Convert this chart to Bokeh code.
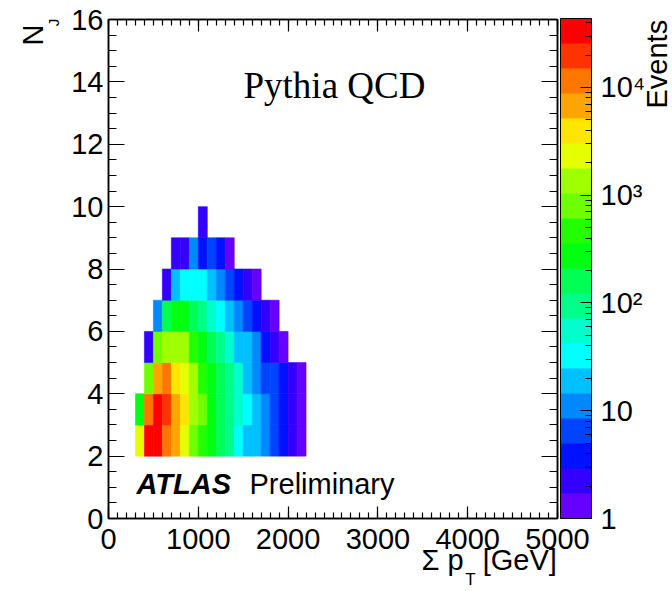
import math
from bokeh.plotting import figure
from bokeh.layouts import row
from bokeh.models import (LogColorMapper, ColorBar, FixedTicker, LinearAxis, Label,
                          ColumnDataSource, Range1d)
from bokeh.transform import transform
from bokeh.embed import file_html
from bokeh.resources import INLINE

# ---------------- data ----------------
sum_pt_low_edges = [300, 400, 500, 600, 700, 800, 900, 1000, 1100, 1200,
                    1300, 1400, 1500, 1600, 1700, 1800, 1900, 2000, 2100]
bin_width_gev = 100
nj_rows = [2, 3, 4, 5, 6, 7, 8, 9]

counts_nj2 = [2300, 30500, 34000, 12000, 6900, 2400, 780, 480, 270, 160, 92, 31, 20, 17, 11, 6, 4, 2, 1]
counts_nj3 = [280, 11000, 31000, 20000, 7000, 4000, 1400, 800, 260, 150, 95, 56, 33, 19, 11, 6, 4, 2, 1]
counts_nj4 = [0, 800, 6500, 11500, 3900, 2300, 1300, 470, 280, 165, 90, 52, 18, 11, 7, 6, 3, 2, 1]
counts_nj5 = [0, 2, 750, 1400, 1300, 1250, 450, 270, 150, 95, 54, 19, 18, 10, 4, 2, 1, 0, 0]
counts_nj6 = [0, 0, 11, 150, 290, 260, 170, 90, 56, 30, 18, 11, 6, 4, 2, 1, 0, 0, 0]
counts_nj7 = [0, 0, 0, 2, 19, 34, 36, 31, 20, 11, 6, 4, 2, 1, 0, 0, 0, 0, 0]
counts_nj8 = [0, 0, 0, 0, 2, 2, 10, 4, 6, 3, 1, 0, 0, 0, 0, 0, 0, 0, 0]
counts_nj9 = [0, 0, 0, 0, 0, 0, 0, 2, 0, 0, 0, 0, 0, 0, 0, 0, 0, 0, 0]
counts_by_row = [counts_nj2, counts_nj3, counts_nj4, counts_nj5,
                 counts_nj6, counts_nj7, counts_nj8, counts_nj9]

x_tick_values = [0, 1000, 2000, 3000, 4000, 5000]
y_tick_values = [0, 2, 4, 6, 8, 10, 12, 14, 16]
z_tick_values = [1, 10, 100, 1000, 10000]
z_tick_labels = ["1", "10", "10\u00b2", "10\u00b3", "10\u2074"]
z_max = 43650

x_title_main = "\u03a3 p"
x_title_sub = "T"
x_title_unit = "[GeV]"
y_title_main = "N"
y_title_sub = "J"
z_title = "Events"

palette = ["#6600FF", "#3300FF", "#0011FF", "#0044FF", "#0088FF", "#00C0FF",
           "#00FFFF", "#00FFCC", "#00FF88", "#00FF55", "#00FF11", "#22FF00",
           "#70FF00", "#A0FF00", "#E5FF00", "#FFE500", "#FFA500", "#FF7700",
           "#FF3300", "#FF0000"]

# ---------------- build cell table ----------------
xs, ys, cs = [], [], []
for nj, r in zip(nj_rows, counts_by_row):
    for lo, c in zip(sum_pt_low_edges, r):
        if c > 0:
            xs.append(lo + bin_width_gev / 2)
            ys.append(nj + 0.5)
            cs.append(c)
src = ColumnDataSource(dict(x=xs, y=ys, count=cs))

FONT = "Liberation Sans"
TS = "29px"

p = figure(width=644, height=591, x_range=Range1d(0, 5000), y_range=Range1d(0, 16),
           output_backend="svg", toolbar_location=None,
           min_border_left=108, min_border_right=87, min_border_top=19, min_border_bottom=72)
p.grid.visible = False
p.outline_line_color = "black"
p.outline_line_width = 1.5
p.background_fill_color = "white"

mapper = LogColorMapper(palette=palette, low=1, high=z_max)
p.rect(x="x", y="y", width=bin_width_gev, height=1, source=src,
       fill_color=transform("count", mapper), line_color=transform("count", mapper),
       line_width=0.6)

x_minor = list(range(0, 5001, 100))
y_minor = [i * 0.5 for i in range(0, 33)]

xb = p.xaxis[0]
yl = p.yaxis[0]
xt = LinearAxis()
yr = LinearAxis()
p.add_layout(xt, "above")
p.add_layout(yr, "right")

for ax in (xb, xt):
    ax.ticker = FixedTicker(ticks=x_tick_values, minor_ticks=x_minor)
    ax.major_tick_in = 12
    ax.major_tick_out = 0
    ax.minor_tick_in = 6
    ax.minor_tick_out = 0
for ax in (yl, yr):
    ax.ticker = FixedTicker(ticks=y_tick_values, minor_ticks=y_minor)
    ax.major_tick_in = 16
    ax.major_tick_out = 0
    ax.minor_tick_in = 8
    ax.minor_tick_out = 0
for ax in (xb, xt, yl, yr):
    ax.axis_line_color = "black"
    ax.axis_line_width = 1.5
    ax.major_tick_line_color = "black"
    ax.minor_tick_line_color = "black"
    ax.major_tick_line_width = 1.2
    ax.minor_tick_line_width = 1.2
    ax.major_label_text_font = FONT
    ax.major_label_text_color = "black"
for ax in (xb, yl):
    ax.major_label_text_font_size = TS
xb.major_label_standoff = 10
yl.major_label_standoff = 5
for ax in (xt, yr):
    # mirror axes: ticks only, labels not drawn
    ax.major_label_text_font_size = "1px"
    ax.major_label_text_color = None
    ax.major_label_standoff = 0


def title_axis(side, ticks, labels, size, standoff, orientation="horizontal"):
    ax = LinearAxis(ticker=FixedTicker(ticks=ticks, minor_ticks=[]),
                    major_label_overrides={t: s for t, s in zip(ticks, labels)},
                    axis_line_color=None, major_tick_line_color=None,
                    minor_tick_line_color=None, major_tick_out=0, major_tick_in=0,
                    major_label_text_font=FONT, major_label_text_font_size=size,
                    major_label_text_color="black", major_label_standoff=standoff,
                    major_label_orientation=orientation)
    p.add_layout(ax, side)
    return ax

# y title: N with subscript J (rotated, top-aligned)
title_axis("left", [15.9], [y_title_sub], "15px", 6, "vertical")
title_axis("left", [15.5], [y_title_main], TS, -6, "vertical")
# x title: Σ p_T [GeV] (right-aligned)
title_axis("below", [3720, 4580], [x_title_main, x_title_unit], TS, -8)
title_axis("below", [4030], [x_title_sub], "17px", -9)

cbar = ColorBar(color_mapper=mapper, location=(452, 0), width=31, height=500,
                padding=0, margin=0,
                ticker=FixedTicker(ticks=z_tick_values,
                                   minor_ticks=[m * d for d in (1, 10, 100, 1000, 10000) for m in range(2, 10)]),
                major_label_overrides={v: t for v, t in zip(z_tick_values, z_tick_labels)},
                major_label_text_font=FONT, major_label_text_font_size=TS,
                major_label_text_color="black",
                major_tick_in=11, major_tick_out=0, major_tick_line_color="black",
                major_tick_line_width=1.2,
                minor_tick_in=6, minor_tick_out=0, minor_tick_line_color="black",
                minor_tick_line_width=1.0,
                label_standoff=9, bar_line_color="black", bar_line_width=1,
                border_line_color=None, background_fill_color=None)
p.add_layout(cbar)


def lab(fig, text, x, y, size, font=FONT, style="normal", align="left", angle=0.0):
    fig.add_layout(Label(x=x, y=y, x_units="screen", y_units="screen", text=text,
                         text_font=font, text_font_size=size, text_font_style=style,
                         text_align=align, text_baseline="middle", angle=angle,
                         text_color="black"))

lab(p, "Pythia QCD", 135, 433, "37px", font="Liberation Serif")
lab(p, "ATLAS", 28, 35, TS, style="bold italic")
lab(p, "Preliminary", 141, 35, TS)

# narrow strip on the right carrying the z-axis title
p2 = figure(width=28, height=591, x_range=Range1d(0, 1), y_range=Range1d(0, 1),
            output_backend="svg", toolbar_location=None,
            x_axis_location=None, y_axis_location=None, min_border=0)
p2.grid.visible = False
p2.outline_line_color = None
lab(p2, z_title, 12, 410, TS, align="left", angle=math.pi / 2)

layout = row(p, p2, spacing=0)
open("out.html", "w").write(file_html(layout, INLINE))
